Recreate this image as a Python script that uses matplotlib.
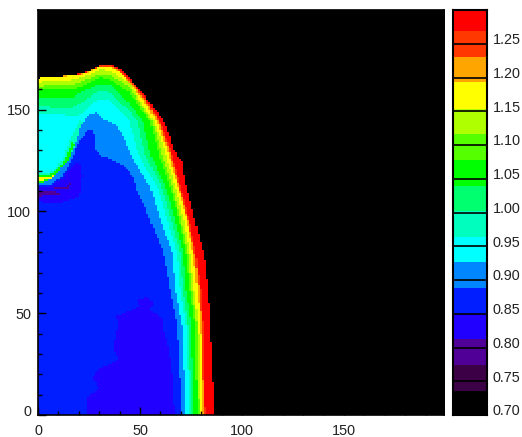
import numpy as np
import matplotlib
matplotlib.use("Agg")
import matplotlib.pyplot as plt
from matplotlib.colors import ListedColormap, BoundaryNorm
from matplotlib.path import Path
from matplotlib.transforms import ScaledTranslation

plt.rcParams['font.family'] = ['Liberation Sans', 'DejaVu Sans']

LEVELS = [0.70, 0.7355, 0.7737, 0.812, 0.850, 0.888, 0.926, 0.964, 1.002,
          1.040, 1.078, 1.116, 1.154, 1.193, 1.231, 1.269, 1.30]
COLORS = ['#000000', '#3c0046', '#500096', '#2100ff', '#001eff', '#0087ff',
          '#00ffff', '#00ffbe', '#00ff6e', '#00ff00', '#55ff00', '#afff00',
          '#ffff00', '#ffa500', '#ff3700', '#ff0000']
CBAR_TICKS = [0.70, 0.75, 0.80, 0.85, 0.90, 0.95, 1.00, 1.05, 1.10, 1.15, 1.20, 1.25]
CBAR_LABELS = ['0.70', '0.75', '0.80', '0.85', '0.90', '0.95', '1.00', '1.05', '1.10', '1.15', '1.20', '1.25']
X_TICKS = [0, 50, 100, 150]
Y_TICKS = [0, 50, 100, 150]

# radial rows read on the right flank of the shell
ROWS = [144.4, 128.4, 111.9, 95.7, 79.5, 61.4, 44.2, -1]

red_edge = [(0, 165.4), (4.9, 165.9), (15.3, 166.8), (21, 167.8), (26, 169.3), (31, 172.4), (35.8, 172.4),
            (40.7, 169.8), (46.5, 163.4), (53, 156), (57.8, 149.7), (61.3, 144.7), (64.7, 136.4), (66.2, 130),
            (70.5, 125.1), (72, 115.2), (75.9, 99.1), (78.4, 89.4), (81.4, 77.1), (81.8, 71.2), (83.3, 61.4),
            (83.8, 44.3), (85.3, 27.2), (85.8, -1)]
orangered_edge = [(0, 165.4), (15.3, 166.8), (21, 167.7), (26, 169.3), (30.8, 171.8), (35.8, 171.8), (40.2, 169.3),
                  (46.4, 162.9), (52.7, 155.5)] + list(zip([59.5, 65.4, 69.8, 74.2, 77.1, 79.6, 80.6, 81.6], ROWS))
orange_edge = [(0, 165.4), (15.3, 166.8), (21, 167.5), (26, 169.3), (30.8, 171.5), (35.8, 171.3), (40.2, 168.8),
               (46, 162.4), (52.4, 155)] + list(zip([58.8, 64.7, 69.1, 73.5, 76.4, 78.9, 79.9, 80.9], ROWS))
yellow_edge = [(0, 165.4), (15.2, 166.6), (21, 167.3), (26, 168.8), (30.3, 171.2), (35.3, 170.8), (40.2, 168.3),
               (45.5, 161.9), (51.4, 155)] + list(zip([57.8, 63.7, 68.6, 73, 75.7, 77.9, 79.4, 80.4], ROWS))
yg_edge = [(0, 163.4), (15.7, 164.3), (23, 166.3), (30.3, 169.7), (35.3, 169.3), (44.6, 162.9)] + \
    list(zip([56.8, 62.3, 67.2, 71.5, 74.5, 76.4, 78.4, 79.4], ROWS))
chart_edge = [(0, 161.4), (15.7, 161.9), (23, 164.3), (30.3, 167.3), (35.3, 166.8), (44.6, 160.9)] + \
    list(zip([55.9, 60.3, 65.7, 70, 73.5, 75.5, 77.7, 78.7], ROWS))
green_edge = [(0, 159.5), (15.7, 159.5), (23, 161.9), (30.3, 165.9), (35.3, 164.3), (44.6, 158.5)] + \
    list(zip([54.9, 58.8, 64.7, 69.1, 72.5, 74.5, 76.9, 77.9], ROWS))
spring_edge = [(0, 156), (15.7, 155.5), (23, 159.5), (30.3, 162.4), (35.3, 161.9), (44.6, 153.5)] + \
    list(zip([51.4, 54.9, 62.3, 67.2, 71, 72.5, 75, 76.4], ROWS))
turq_edge = [(0, 152.1), (15.7, 150.6), (23, 154.5), (30.3, 159.5), (35.3, 158), (44.6, 149.7)] + \
    list(zip([48.6, 52.4, 60.3, 65.2, 69.6, 71, 73.5, 75.5], ROWS))
cyan_edge = [(0, 148.1), (20.1, 147.2), (25.5, 152.1), (30.3, 155.5), (35.3, 154.5), (44.6, 144.7)] + \
    list(zip([49, 58.3, 63.2, 68.1, 69.6, 72.5, 74.5], ROWS[1:]))

# thin tongue of higher values under the cyan zone at the axis
tongue_turq = [(0, 118.8), (5.9, 119.3), (9.8, 122.2), (12.7, 127.6), (15.2, 133.9), (18.1, 139.8), (21, 145.7),
               (30, 119.8), (0, 109.8)]
tongue_green = [(0, 118), (5.9, 118.3), (9.8, 120.8), (13.2, 126.1), (15.7, 131.5), (16.6, 134.4), (17.6, 132.4),
                (13.7, 122.7), (9.3, 116.8), (3, 114.3), (0, 114.3)]
tongue_yellow = [(0, 116.8), (4.9, 116.8), (7.9, 117.8), (9.8, 119.3), (10.7, 117.8), (6.9, 115.8), (0, 115.3)]

azure_edge = [(0, 113.5), (2.5, 114.3), (6.4, 116.3), (11.2, 121.2), (15.2, 126.1), (18.6, 133.9), (21, 142.3),
              (24.5, 147.2), (28.4, 148.7), (33.3, 144.7), (38.2, 142.3), (42.2, 135.9), (45, 128.4), (54.9, 111.9),
              (59.8, 95.7), (65.7, 79.5), (67.2, 61.4), (70.5, 44.2), (72.5, -1)]
blue_edge = [(0, 112.5), (5.9, 112.8), (11.7, 117.3), (15.7, 124.2), (18.6, 131), (21, 135.9), (22.6, 137.4),
             (24.5, 139.8), (26.5, 139.8), (27.9, 136.7), (27.9, 131), (30.8, 127.6), (34.3, 126.2), (43.1, 121.8),
             (47, 116.3), (48, 111.4), (51.4, 104.6), (54.9, 95.7), (61.3, 79.5), (64.7, 61.4), (68.1, 44.3),
             (70.5, -1)]
pocket_indigo = [(0, 111.8), (5.9, 112.3), (11.7, 116.3), (15.7, 121.2), (18.6, 124.2), (20.6, 123.2), (21.6, 117.8),
                 (21, 110.4), (19.6, 107), (13.7, 105.1), (10.7, 104.1), (0, 104.6)]
pocket_purple = [(0, 110.4), (8.4, 109.9), (11.7, 108.4), (8.4, 107.9), (0, 107.4)]
dash_purple = [(13.7, 111.8), (15.7, 114.8), (16.6, 114.3), (14.7, 111.3)]
core_indigo = [(24.5, -1), (24, 9), (30.3, 13.4), (27, 17.3), (28, 21.2), (39.2, 27.1), (36.7, 33.5),
               (39.2, 45.3), (37.7, 48.2), (50, 53.1), (48.6, 56.5), (53.4, 58), (56.3, 55.5), (54.9, 51.6),
               (61.3, 46.8), (61.3, 41.8), (63.7, 33.5), (64.7, 27.1), (66.2, 13.8), (66.7, -1)]

# value inside each contour, painted outermost first
LAYERS = [
    (red_edge, 1.285, True), (orangered_edge, 1.25, True), (orange_edge, 1.21, True),
    (yellow_edge, 1.17, True), (yg_edge, 1.135, True), (chart_edge, 1.097, True),
    (green_edge, 1.06, True), (spring_edge, 1.02, True), (turq_edge, 0.983, True),
    (cyan_edge, 0.945, True), (tongue_turq, 0.983, False), (tongue_green, 1.06, False),
    (tongue_yellow, 1.17, False), (azure_edge, 0.907, True), (blue_edge, 0.869, True),
    (pocket_indigo, 0.831, False), (pocket_purple, 0.79, False), (dash_purple, 0.79, False),
    (core_indigo, 0.831, False),
]

NX = NY = 199
xc, yc = np.meshgrid(np.arange(NX) + 0.5, np.arange(NY) + 0.5)
cells = np.column_stack([xc.ravel(), yc.ravel()])
field = np.full(NX * NY, 0.71)
for edge, value, to_axis in LAYERS:
    pts = list(edge)
    if to_axis:
        pts = pts + [(-1, -1), (-1, edge[0][1])]
    else:
        pts = [(-1, pts[0][1])] + pts + ([(-1, pts[-1][1])] if pts[0][0] == 0 else [])
    field[Path(pts).contains_points(cells)] = value
field = field.reshape(NY, NX)

cmap = ListedColormap(COLORS)
norm = BoundaryNorm(LEVELS, cmap.N)

W, H = 522, 437
fig = plt.figure(figsize=(W / 100, H / 100), dpi=100)
ax = fig.add_axes([38 / W, 1 - 415 / H, 406 / W, 405 / H])
ax.imshow(field, origin='lower', extent=[0, 199, 0, 199], cmap=cmap, norm=norm,
          interpolation='nearest', aspect='auto')
ax.set_xlim(0, 199)
ax.set_ylim(0, 199)
ax.set_xticks(X_TICKS)
ax.set_yticks(Y_TICKS)
ax.set_xticks(np.arange(0, 199, 10), minor=True)
ax.set_yticks(np.arange(0, 199, 10), minor=True)
ax.tick_params(which='major', direction='in', length=5.8, width=1, color='black', labelsize=10.4,
               labelcolor='#222222', pad=5)
ax.tick_params(axis='x', which='major', pad=6.5)
ax.tick_params(which='minor', direction='in', length=2.9, width=1, color='black')
for s in ax.spines.values():
    s.set_linewidth(1.2)
zero = ax.get_yticklabels()[0]
zero.set_transform(zero.get_transform() + ScaledTranslation(0, 3 / 72, fig.dpi_scale_trans))

cax = fig.add_axes([452.5 / W, 1 - 415 / H, 34 / W, 405 / H])
cax.pcolormesh([0, 1], LEVELS, np.arange(len(COLORS)).reshape(-1, 1) + 0.5,
               cmap=cmap, vmin=0, vmax=len(COLORS))
cax.set_xlim(0, 1)
cax.set_ylim(0.70, 1.30)
cax.set_xticks([])
cax.yaxis.tick_right()
cax.set_yticks(CBAR_TICKS)
cax.set_yticklabels(CBAR_LABELS)
cax.tick_params(axis='y', direction='in', length=24.6, width=1.2, color='black', labelsize=10.4,
                labelcolor='#222222', pad=4.5)
offset = ScaledTranslation(0, 3.7 / 72, fig.dpi_scale_trans)
for lab in cax.get_yticklabels():
    lab.set_transform(lab.get_transform() + offset)
for s in cax.spines.values():
    s.set_linewidth(1.5)

fig.savefig('out.png', dpi=100)
